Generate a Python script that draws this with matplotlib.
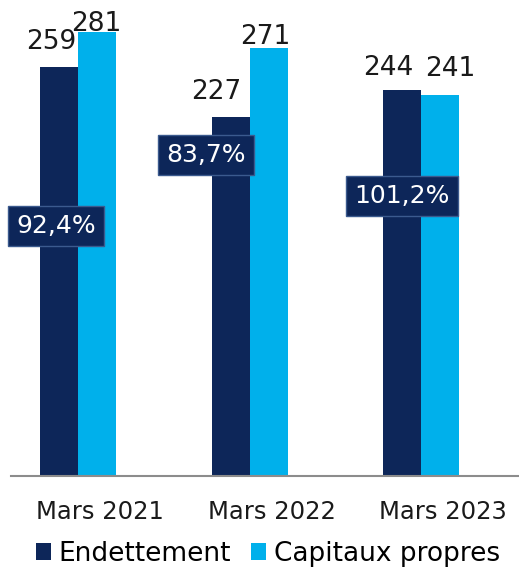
import matplotlib
matplotlib.use("Agg")
import matplotlib.pyplot as plt
import numpy as np
from matplotlib.patches import Patch

categories = ["Mars 2021", "Mars 2022", "Mars 2023"]
endettement = [259, 227, 244]
capitaux = [281, 271, 241]
ratios = ["92,4%", "83,7%", "101,2%"]
series_names = ["Endettement", "Capitaux propres"]

navy = "#0d2659"
cyan = "#00b0eb"

plt.rcParams['font.family'] = ['DejaVu Sans']

W, H = 519, 567
fig = plt.figure(figsize=(W / 100, H / 100), dpi=100)
ax = fig.add_axes([11 / W, (H - 476) / H, (519 - 11) / W, 476 / H])

x = np.arange(len(categories))
bw = 0.2216
b1 = ax.bar(x - bw / 2, endettement, bw, color=navy, zorder=2)
b2 = ax.bar(x + bw / 2, capitaux, bw, color=cyan, zorder=2)

ax.set_xlim(-0.3907, 2.571)
ax.set_ylim(0, 476 / 1.58)

for s in ["top", "right", "left"]:
    ax.spines[s].set_visible(False)
ax.spines["bottom"].set_color("#8c8c8c")
ax.spines["bottom"].set_linewidth(1.5)
ax.set_yticks([])
ax.set_xticks(x + 0.13)
ax.set_xticklabels([])
ax.tick_params(axis="x", length=0)

# category labels, baseline placed explicitly below the axis
trans = ax.get_xaxis_transform()
for i, c in enumerate(categories):
    ax.text(x[i] + 0.13, -43 / 476, c, transform=trans, ha="center", va="baseline",
            fontsize=17.5, color="#1a1a1a", clip_on=False)

# value labels (pixel offsets from bar top centre)
off_e = [(-8, 18), (-14, 18), (-14, 15)]
off_c = [(-1, 1), (-3, 4), (10, 19)]
for i in range(len(categories)):
    ax.annotate(str(endettement[i]), (x[i] - bw / 2, endettement[i]),
                xytext=off_e[i], textcoords="offset pixels",
                ha="center", va="baseline", fontsize=19, color="#1a1a1a", zorder=5)
    ax.annotate(str(capitaux[i]), (x[i] + bw / 2, capitaux[i]),
                xytext=off_c[i], textcoords="offset pixels",
                ha="center", va="baseline", fontsize=19, color="#1a1a1a", zorder=5)

# ratio boxes
box_pos = [(-0.128, 158), (0.746, 203), (1.889, 177)]
for i, (bx, by) in enumerate(box_pos):
    ax.text(bx, by, ratios[i], ha="center", va="center", fontsize=18, color="white",
            zorder=6,
            bbox=dict(boxstyle="square,pad=0.32", facecolor=navy, edgecolor="#3b5a8e",
                      linewidth=1))

handles = [Patch(facecolor=navy, edgecolor="none"), Patch(facecolor=cyan, edgecolor="none")]
fig.legend(handles, series_names, loc="center", bbox_to_anchor=(268 / W, 1 - 554 / H),
           ncol=2, frameon=False, fontsize=19, handlelength=0.58, handleheight=0.58,
           handletextpad=0.3, columnspacing=0.75, borderaxespad=0, borderpad=0)

fig.savefig("out.png", dpi=100)
